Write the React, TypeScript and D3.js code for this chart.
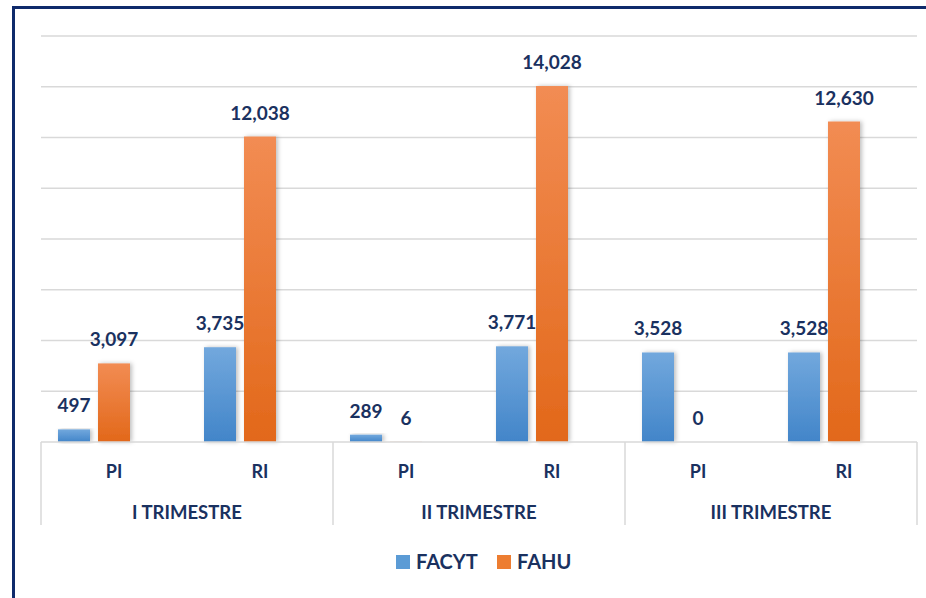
import React from "react";
import * as d3 from "d3";

const groups = ["I TRIMESTRE", "II TRIMESTRE", "III TRIMESTRE"];
const subcats = ["PI", "RI"];
const seriesNames = ["FACYT", "FAHU"];
const facyt = [497, 3735, 289, 3771, 3528, 3528];
const fahu = [3097, 12038, 6, 14028, 0, 12630];
const yTicks = [0, 2000, 4000, 6000, 8000, 10000, 12000, 14000, 16000];

const W = 926, H = 598;
const left = 41, right = 917, top = 36, base = 442;
const navy = "#1a3160";
const font = "Lato, 'Open Sans', sans-serif";

export default function App() {
  const y = d3.scaleLinear().domain([0, 16000]).range([base, top]);
  const keys = groups.flatMap((g) => subcats.map((s) => g + "|" + s));
  const xAxis = d3.scaleBand().domain(keys).range([left, right]);
  const xGroup = d3.scaleBand().domain(groups).range([left, right]);
  const barOffset = -20;
  const barW = 32, gap = 8;
  const fmt = d3.format(",");
  const colors = ["url(#gBlue)", "url(#gOrange)"];
  const series = [facyt, fahu];

  return (
    <svg width={W} height={H} style={{ position: "absolute", left: 0, top: 0, background: "#fff" }}>
      <defs>
        <linearGradient id="gBlue" x1="0" y1="0" x2="0" y2="1">
          <stop offset="0%" stopColor="#72a8dd" />
          <stop offset="100%" stopColor="#4285c9" />
        </linearGradient>
        <linearGradient id="gOrange" x1="0" y1="0" x2="0" y2="1">
          <stop offset="0%" stopColor="#f28c53" />
          <stop offset="100%" stopColor="#e2681a" />
        </linearGradient>
        <filter id="sh" x="-30%" y="-10%" width="160%" height="120%">
          <feDropShadow dx="2" dy="0" stdDeviation="2" floodColor="#000" floodOpacity="0.25" />
        </filter>
      </defs>
      <rect x={0} y={0} width={W} height={H} fill="#fff" />
      <path d={`M13.5,${H} L13.5,7.5 L${W},7.5`} fill="none" stroke="#0f2a6b" strokeWidth={3} />
      {yTicks.slice(1).map((t) => (
        <line key={t} x1={left} x2={right} y1={y(t)} y2={y(t)} stroke="#d9d9d9" strokeWidth={1.3} />
      ))}
      {keys.map((k, i) => {
        const cx = (xAxis(k) as number) + xAxis.bandwidth() / 2 + barOffset;
        return series.map((vals, si) => {
          const x0 = si === 0 ? cx - gap / 2 - barW : cx + gap / 2;
          const v = vals[i];
          return (
            <g key={k + si}>
              {v > 0 && (
                <rect x={x0} y={y(v)} width={barW} height={base - y(v)} fill={colors[si]} filter="url(#sh)" />
              )}
              <text x={x0 + barW / 2} y={y(v) - 17} textAnchor="middle" fontFamily={font} fontWeight={700} fontSize={19} fill={navy}>
                {fmt(v)}
              </text>
            </g>
          );
        });
      })}
      <line x1={left} x2={right} y1={base} y2={base} stroke="#d9d9d9" strokeWidth={1.5} />
      {groups.map((g) => (
        <line key={g} x1={xGroup(g) as number} x2={xGroup(g) as number} y1={base} y2={525} stroke="#d9d9d9" strokeWidth={1.5} />
      ))}
      <line x1={right} x2={right} y1={base} y2={525} stroke="#d9d9d9" strokeWidth={1.5} />
      {keys.map((k) => (
        <text key={k} x={(xAxis(k) as number) + xAxis.bandwidth() / 2} y={478} textAnchor="middle" fontFamily={font} fontWeight={700} fontSize={18} fill={navy}>
          {k.split("|")[1]}
        </text>
      ))}
      {groups.map((g) => (
        <text key={g} x={(xGroup(g) as number) + xGroup.bandwidth() / 2} y={519} textAnchor="middle" fontFamily={font} fontWeight={700} fontSize={18.5} fill={navy}>
          {g}
        </text>
      ))}
      {seriesNames.map((s, i) => {
        const lx = i === 0 ? 396 : 497;
        return (
          <g key={s}>
            <rect x={lx} y={555} width={14} height={14} fill={i === 0 ? "#5b9bd5" : "#ed7d31"} />
            <text x={lx + 20} y={569} fontFamily={font} fontWeight={700} fontSize={20} fill={navy}>
              {s}
            </text>
          </g>
        );
      })}
    </svg>
  );
}
